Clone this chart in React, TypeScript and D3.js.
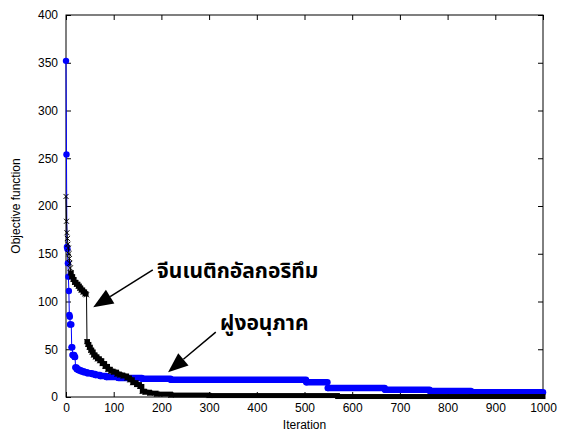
import React, { useRef, useEffect } from 'react';
import * as d3 from 'd3';

// particle swarm (blue dots): iteration where the best value changes, and that value
const psoIter = [0, 1, 2, 3, 4, 5, 6, 7, 8, 9, 12, 14, 18, 20, 23, 27, 32, 38, 45, 55, 62, 72, 85, 110, 160, 220, 504, 549, 669, 763, 850];
const psoValue = [352, 254, 157, 155, 140, 126, 111, 86, 84, 76, 52, 44, 42, 31, 29, 28, 27, 26, 25, 24, 23, 22, 21, 20, 19, 18, 15.5, 9.5, 7.5, 6.3, 5];

// genetic algorithm (black crosses)
const gaIter = [0, 1, 2, 3, 4, 5, 6, 7, 8, 9, 10, 12, 15, 18, 22, 26, 29, 32, 36, 40, 43, 44, 46, 49, 52, 55, 58, 62, 66, 71, 76, 82, 88, 94, 100, 107, 113, 120, 128, 134, 140, 148, 155, 160, 166, 176, 190, 220, 300, 570];
const gaValue = [210, 184, 172, 166, 160, 156, 150, 145, 140, 135, 130, 126, 123, 120, 118, 116, 114, 112, 110, 108, 107, 58, 55, 52, 49, 47, 44, 42, 40, 38, 35, 32, 29, 27, 26, 24, 23, 22, 20, 18, 15, 13, 11, 6, 5, 4, 3, 2, 1.5, 0.5];

const xTicks = [0, 100, 200, 300, 400, 500, 600, 700, 800, 900, 1000];
const yTicks = [0, 50, 100, 150, 200, 250, 300, 350, 400];

const gaLabel = 'จีนเนติกอัลกอริทึม';
const psoLabel = 'ฝูงอนุภาค';

// hold each value until the next change -> runs [start, end, value]
function runs(iters, vals) {
  return iters.map((it, i) => [it, i < iters.length - 1 ? iters[i + 1] - 1 : 1000, vals[i]]);
}
function points(iters, vals) {
  var pts = [];
  runs(iters, vals).forEach(r => {
    pts.push([r[0], r[2]]);
    if (r[1] > r[0]) pts.push([r[1], r[2]]);
  });
  return pts;
}

export default function App() {
  const ref = useRef(null);

  useEffect(() => {
    var margin = {top: 15, right: 31, bottom: 39, left: 66},
      w = 574 - margin.left - margin.right,
      h = 436 - margin.top - margin.bottom;
    var font = '"Liberation Sans", Arial, sans-serif';

    const svg = d3.select(ref.current);
    svg.selectAll('*').remove();
    const g = svg.append('g').attr('transform', `translate(${margin.left}, ${margin.top})`);

    const x = d3.scaleLinear().domain([0, 1000]).range([0, w]);
    const y = d3.scaleLinear().domain([0, 400]).range([h, 0]);

    // axes, ticks pointing inside
    const styleAxis = sel => {
      sel.select('.domain').remove();
      sel.selectAll('line').attr('stroke', '#000');
      sel.selectAll('text').attr('font-family', font).attr('font-size', 12).attr('fill', '#000');
    };
    g.append('g').attr('transform', `translate(0, ${h})`)
      .call(d3.axisBottom(x).tickValues(xTicks).tickFormat(d3.format('d')).tickSize(-5).tickPadding(6)).call(styleAxis);
    g.append('g')
      .call(d3.axisTop(x).tickValues(xTicks).tickSize(-5).tickFormat(() => '')).call(styleAxis);
    g.append('g')
      .call(d3.axisLeft(y).tickValues(yTicks).tickSize(-5).tickPadding(8)).call(styleAxis);
    g.append('g').attr('transform', `translate(${w}, 0)`)
      .call(d3.axisRight(y).tickValues(yTicks).tickSize(-5).tickFormat(() => '')).call(styleAxis);
    g.append('rect').attr('width', w).attr('height', h)
      .attr('fill', 'none').attr('stroke', '#000').attr('stroke-width', 1);

    const line = d3.line().x(d => x(d[0])).y(d => y(d[1]));

    // particle swarm
    g.append('path').attr('d', line(points(psoIter, psoValue)))
      .attr('fill', 'none').attr('stroke', '#0000ff').attr('stroke-width', 1);
    g.selectAll('.pso_run').data(runs(psoIter, psoValue).filter(r => r[1] > r[0])).join('line')
      .attr('class', 'pso_run')
      .attr('x1', d => x(d[0])).attr('x2', d => x(d[1]))
      .attr('y1', d => y(d[2])).attr('y2', d => y(d[2]))
      .attr('stroke', '#0000ff').attr('stroke-width', 6.5).attr('stroke-linecap', 'round');
    g.selectAll('.pso_dot').data(psoIter.map((it, i) => [it, psoValue[i]])).join('circle')
      .attr('class', 'pso_dot')
      .attr('cx', d => x(d[0])).attr('cy', d => y(d[1])).attr('r', 3.2)
      .attr('fill', '#0000ff');

    // genetic algorithm
    g.append('path').attr('d', line(points(gaIter, gaValue)))
      .attr('fill', 'none').attr('stroke', '#000').attr('stroke-width', 1);
    g.selectAll('.ga_run').data(runs(gaIter, gaValue).filter(r => r[1] > r[0])).join('rect')
      .attr('class', 'ga_run')
      .attr('x', d => x(d[0]) - 2.5).attr('width', d => x(d[1]) - x(d[0]) + 5)
      .attr('y', d => y(d[2]) - 2.5).attr('height', 5)
      .attr('fill', '#000');
    g.selectAll('.ga_x').data(gaIter.map((it, i) => [it, gaValue[i]])).join('path')
      .attr('class', 'ga_x')
      .attr('transform', d => `translate(${x(d[0])}, ${y(d[1])})`)
      .attr('d', 'M-2.5,-2.5L2.5,2.5M-2.5,2.5L2.5,-2.5')
      .attr('stroke', '#000').attr('stroke-width', 1).attr('fill', 'none');

    // annotations: [tail, tip] in data units
    const arrows = [
      [[182, 133], [57, 94]],
      [[314, 68], [214, 26]]
    ];
    arrows.forEach(a => {
      var x0 = x(a[0][0]), y0 = y(a[0][1]), x1 = x(a[1][0]), y1 = y(a[1][1]);
      var dx = x1 - x0, dy = y1 - y0, len = Math.sqrt(dx * dx + dy * dy);
      var ux = dx / len, uy = dy / len, hl = 20, hw = 8;
      var bx = x1 - ux * hl, by = y1 - uy * hl;
      g.append('line').attr('x1', x0).attr('y1', y0).attr('x2', bx).attr('y2', by)
        .attr('stroke', '#000').attr('stroke-width', 1.5);
      g.append('path')
        .attr('d', `M${x1},${y1}L${bx - uy * hw},${by + ux * hw}L${bx + uy * hw},${by - ux * hw}Z`)
        .attr('fill', '#000');
    });

    var thaiFont = '"Noto Sans Thai", "Noto Sans", "DejaVu Sans", sans-serif';
    g.append('text').attr('x', x(191)).attr('y', y(124.6)).text(gaLabel)
      .attr('font-family', thaiFont).attr('font-size', 21).attr('font-weight', 'bold');
    g.append('text').attr('x', x(323)).attr('y', y(70.2)).text(psoLabel)
      .attr('font-family', thaiFont).attr('font-size', 21).attr('font-weight', 'bold');

    // axis labels
    g.append('text').attr('x', w / 2).attr('y', h + 32).attr('text-anchor', 'middle')
      .attr('font-family', font).attr('font-size', 12).text('Iteration');
    g.append('text').attr('transform', `translate(${-46}, ${h / 2}) rotate(-90)`)
      .attr('text-anchor', 'middle')
      .attr('font-family', font).attr('font-size', 12).text('Objective function');
  }, []);

  return (
    <svg ref={ref} width={574} height={436}
      style={{position: 'absolute', left: 0, top: 0, background: '#fff'}}>
    </svg>
  );
}
